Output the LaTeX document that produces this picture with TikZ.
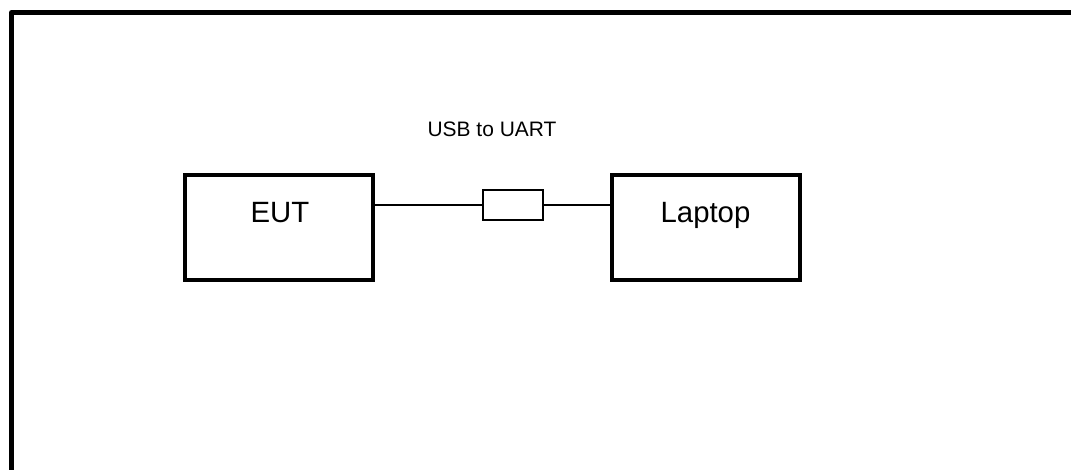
\documentclass[tikz,border=0pt]{standalone}
\usepackage{fontspec}
\setmainfont{Liberation Sans}
\usetikzlibrary{positioning}

\tikzset{
	unitbox/.style={draw, line width=3pt, rectangle, inner sep=0pt, minimum width=141pt, minimum height=78.75pt},
	boxlabel/.style={anchor=base, inner sep=0pt, font=\fontsize{22pt}{26pt}\selectfont},
	adapter/.style={draw, line width=0.8pt, rectangle, inner sep=0pt, minimum width=45pt, minimum height=22.5pt},
	cable/.style={line width=1.1pt},
}

\begin{document}
\begin{tikzpicture}[x=0.75pt,y=0.75pt,yscale=-1]
		\useasboundingbox (0,0) rectangle (1071,470);
		
		%Frame [id:frame]
		\draw [line width=3.75pt, line join=round]  (11.5,480) -- (11.5,12.5) -- (1080,12.5) ;
		
		%Shape: Rectangle [id:eut]
		\node [unitbox] (eut) at (279,227.5) {};
		%Shape: Rectangle [id:laptop]
		\node [unitbox] (laptop) at (705.5,227.5) {};
		%Shape: Rectangle [id:adapter]
		\node [adapter] (usb) at (513,205) {};
		
		%Straight Lines [id:cable1]
		\draw [cable]  (usb.west) -- (usb.west -| eut.east) ;
		%Straight Lines [id:cable2]
		\draw [cable]  (usb.east) -- (usb.east -| laptop.west) ;
		
		% Text Node
		\node [boxlabel] (euttxt) at (280,223) {EUT};
		% Text Node
		\node [boxlabel] (laptoptxt) at (705.5,223) {Laptop};
		% Text Node
		\node [anchor=base, inner sep=0pt, font=\fontsize{15.7pt}{19pt}\selectfont] (usbtxt) at (492,137) {USB to UART};
	\end{tikzpicture}
\end{document}
